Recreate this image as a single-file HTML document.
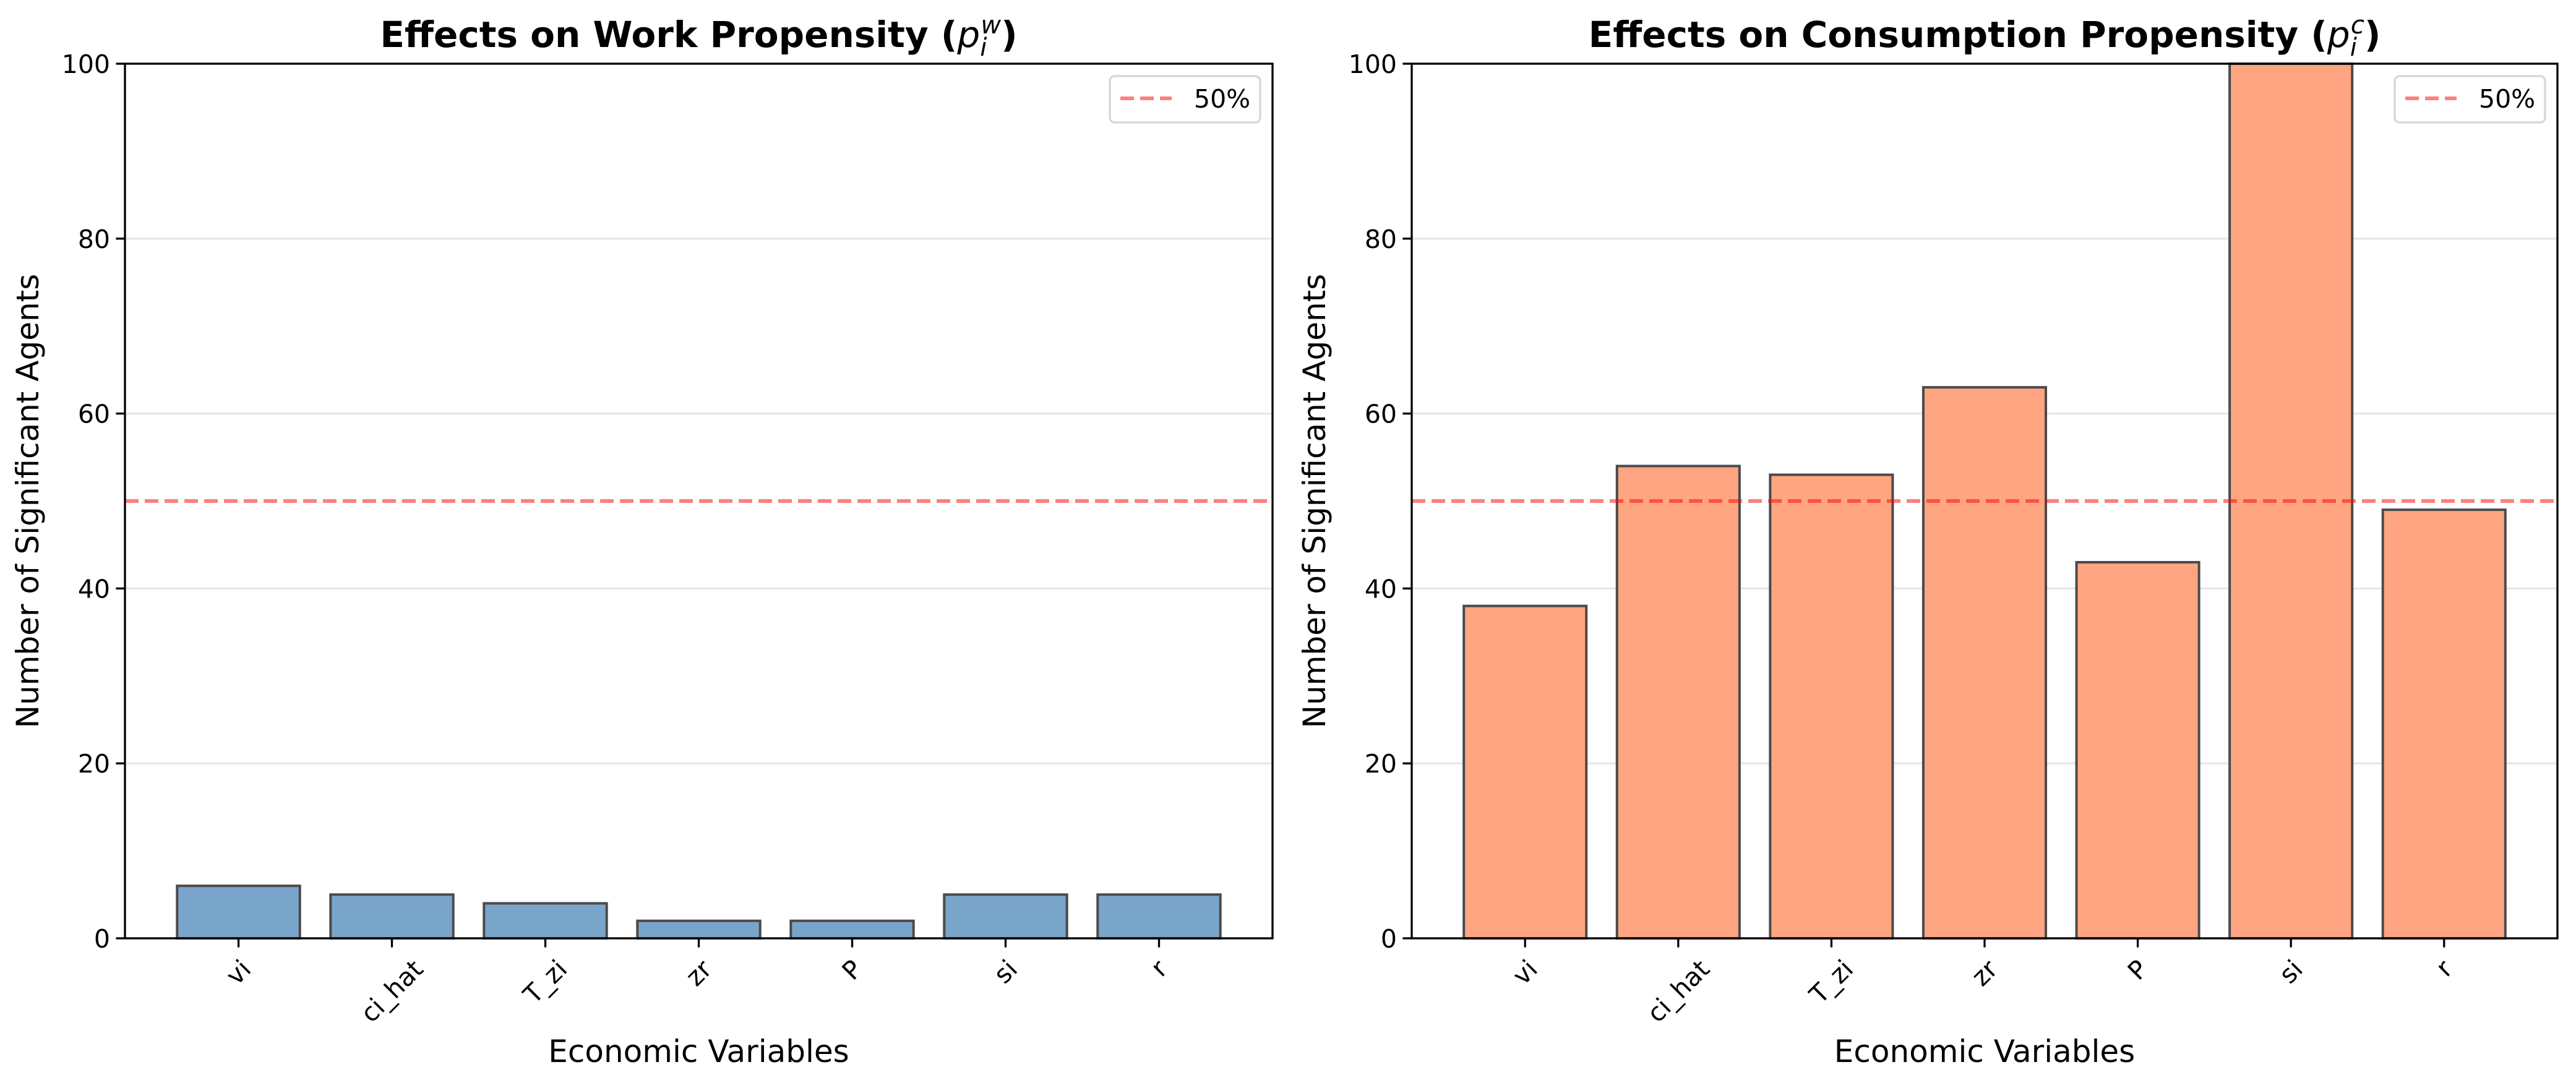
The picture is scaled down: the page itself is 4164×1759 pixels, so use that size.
<!DOCTYPE html>
<html><head><meta charset="utf-8"><style>
html,body{margin:0;padding:0;background:#fff;}
svg{display:block;font-family:"DejaVu Sans","Liberation Sans",sans-serif;}
</style></head>
<body>
<svg id="fig" width="4164" height="1759" viewBox="0 0 4164 1759" xmlns="http://www.w3.org/2000/svg"></svg>
<script>
const categories = ["vi","ci_hat","T_zi","zr","P","si","r"];
const workValues = [6,5,4,2,2,5,5];
const consValues = [38,54,53,63,43,100,49];
const yTicks = [0,20,40,60,80,100];
const refValue = 50;

const NS = "http://www.w3.org/2000/svg";
const svg = document.getElementById("fig");
function mk(tag, attrs, parent){
  const e = document.createElementNS(NS, tag);
  for (const k in attrs) e.setAttribute(k, attrs[k]);
  (parent||svg).appendChild(e);
  return e;
}

function panel(cfg){
  const L=cfg.left, R=cfg.right, T=103, B=1517;
  const g = mk("g",{});
  
  
  const n = categories.length;
  const xmin = -0.4 - 0.05*(n-1+0.8), xmax = (n-1)+0.4 + 0.05*(n-1+0.8);
  const xs = v => L + (v - xmin)/(xmax - xmin)*(R-L);
  const ys = v => B - v/100*(B-T);
  yTicks.forEach(t=>{
    if (t===0||t===100) return;
    const gl = mk("line",{x1:L,x2:R,y1:ys(t),y2:ys(t),stroke:"#b0b0b0","stroke-opacity":0.3,"stroke-width":3.3},g);
    
    
  });
  cfg.values.forEach((v,i)=>{
    const x0 = xs(i-0.4), x1 = xs(i+0.4);
    const top = Math.max(ys(v), T);
    const b = mk("rect",{x:x0,y:top,width:x1-x0,height:B-top,fill:cfg.fill,stroke:"#4a4a4a","stroke-width":4},g);
    
    
  });
  const rl = mk("line",{x1:L,x2:R,y1:ys(refValue),y2:ys(refValue),stroke:"#ff0000","stroke-opacity":0.5,"stroke-width":6,"stroke-dasharray":"22 10"},g);
  
  
  const sp = mk("rect",{x:L,y:T,width:R-L,height:B-T,fill:"none",stroke:"#000","stroke-width":3.3},g);
  
  
  yTicks.forEach(t=>{
    mk("line",{x1:L-14.6,x2:L,y1:ys(t),y2:ys(t),stroke:"#000","stroke-width":3.3},g);
    const tx = mk("text",{x:L-24,y:ys(t)+15,"text-anchor":"end","font-size":41,fill:"#000"},g);
    tx.textContent = t;
    
    
  });
  categories.forEach((c,i)=>{
    const x = xs(i);
    mk("line",{x1:x,x2:x,y1:B,y2:B+14.6,stroke:"#000","stroke-width":3.3},g);
    const tx = mk("text",{x:0,y:0,"text-anchor":"middle","dominant-baseline":"central","font-size":41,fill:"#000"},g);
    tx.textContent = c;
    
    
    const w = tx.getComputedTextLength();
    const h = 41;
    const bh = (w + h) * 0.7071;
    tx.setAttribute("transform", `translate(${x},${B + 28 + bh/2}) rotate(-45)`);
  });
  const yl = mk("text",{x:0,y:0,"text-anchor":"middle","font-size":50,fill:"#000",transform:`translate(${L-140},${(T+B)/2}) rotate(-90)`},g);
  yl.textContent = "Number of Significant Agents";
  
  
  const xl = mk("text",{x:(L+R)/2,y:1717,"text-anchor":"middle","font-size":50,fill:"#000"},g);
  xl.textContent = "Economic Variables";
  
  
  const ti = mk("text",{x:(L+R)/2,y:76,"text-anchor":"middle","font-size":58,"font-weight":"bold",fill:"#000"},g);
  ti.innerHTML = cfg.title + ' (<tspan font-style="italic" font-weight="normal">p</tspan><tspan font-style="italic" font-weight="normal" font-size="40" dy="14">i</tspan><tspan font-style="italic" font-weight="normal" font-size="40" dy="-36" dx="-10">'+cfg.sup+'</tspan><tspan dy="22">)</tspan>';
  
  
  const lx = R-263, ly = 123;
  const lb = mk("rect",{x:lx,y:ly,width:243,height:75,rx:8,fill:"#fff","fill-opacity":0.8,stroke:"#d6d6d6","stroke-width":3.3},g);
  
  
  const ll = mk("line",{x1:lx+17,x2:lx+100,y1:ly+36,y2:ly+36,stroke:"#ff0000","stroke-opacity":0.5,"stroke-width":6,"stroke-dasharray":"22 10"},g);
  
  
  const lt = mk("text",{x:lx+136,y:ly+51,"font-size":41,fill:"#000"},g);
  lt.textContent = "50%";
  
  
}

panel({name:"work-propensity-chart",left:202,right:2057,values:workValues,fill:"#79a5cb",title:"Effects on Work Propensity",sup:"w"});
panel({name:"consumption-propensity-chart",left:2282,right:4134,values:consValues,fill:"#ffa582",title:"Effects on Consumption Propensity",sup:"c"});
</script>
</body></html>
